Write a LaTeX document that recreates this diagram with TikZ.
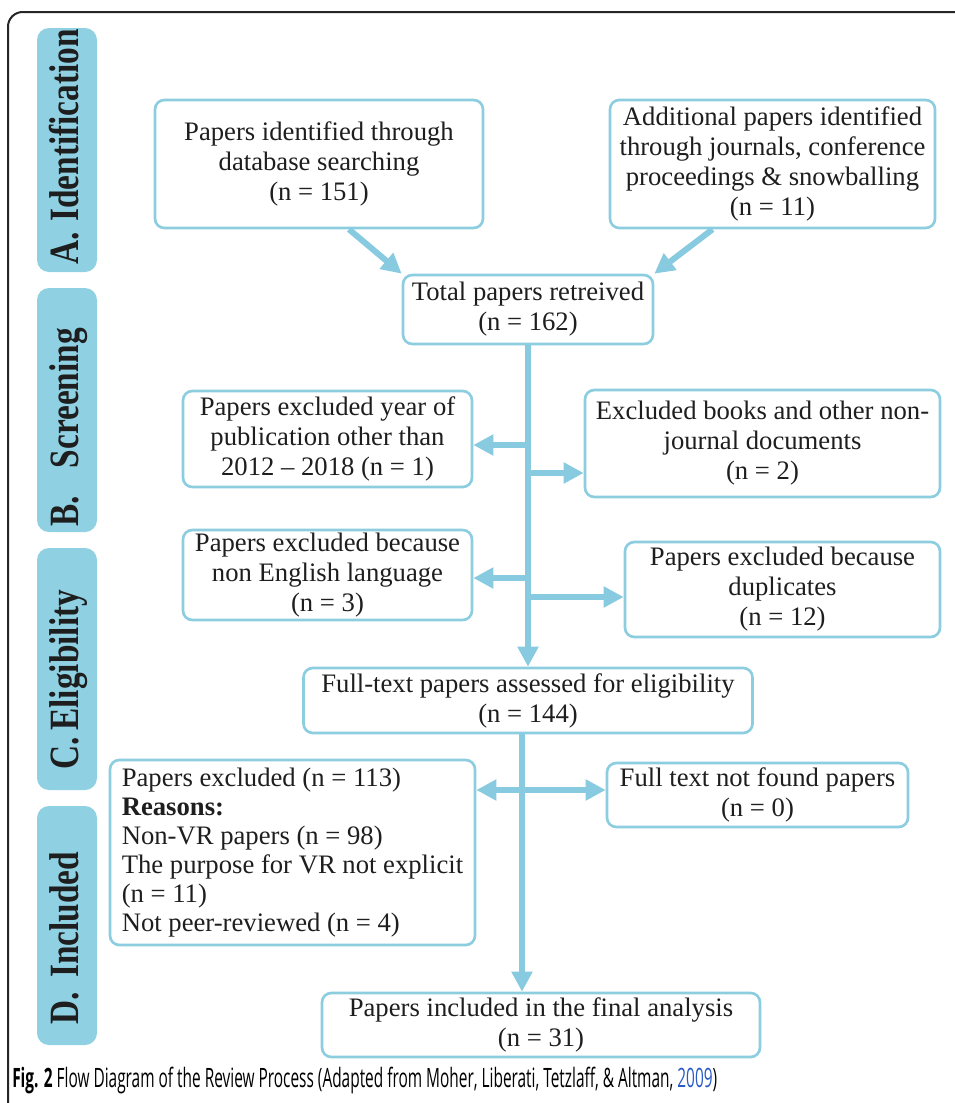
\documentclass[tikz,border=0pt]{standalone}
\usepackage{fontspec}
\usepackage{graphicx}
\setmainfont{Liberation Serif}
\newfontfamily\capfont{Open Sans}
\usetikzlibrary{arrows.meta,calc}
\definecolor{bcol}{RGB}{140,205,224}
\definecolor{lcol}{RGB}{143,208,227}
\definecolor{acol}{RGB}{136,203,224}
\definecolor{tcol}{RGB}{30,30,30}
\definecolor{linkblue}{RGB}{40,90,200}
\begin{document}
\begin{tikzpicture}[x=0.75pt,y=-0.75pt,
 pbox/.style={draw=bcol, line width=2pt, rounded corners=7pt, fill=white, align=center, inner sep=0pt, text=tcol, font=\fontsize{20}{22.5}\selectfont},
 flow/.style={draw=acol, line width=4.5pt, -{Triangle[length=15pt,width=15pt]}},
 flowboth/.style={draw=acol, line width=4.5pt, {Triangle[length=15pt,width=15pt]}-{Triangle[length=15pt,width=15pt]}},
 labfill/.style={fill=lcol, rounded corners=9pt},
 labtext/.style={rotate=90, anchor=base west, inner sep=0pt, text=tcol, font=\fontsize{25}{30}\selectfont\bfseries}]

\useasboundingbox (0,0) rectangle (955,1103);
\fill[white] (0,0) rectangle (955,1103);
\draw[line width=1.5pt, draw=black!85, rounded corners=11pt] (8,1130) -- (8,12) -- (980,12);

% stage labels
\fill[labfill] (37,28) rectangle (97,272);
\node[labtext] (la) at (78,265) {\scalebox{1}[1.25]{A.\hspace{8pt}Identification}};
\fill[labfill] (37,288) rectangle (97,532);
\node[labtext] (lb) at (78,527) {\scalebox{1}[1.25]{B.\hspace{21pt}Screening}};
\fill[labfill] (37,548) rectangle (97,790);
\node[labtext] (lc) at (78,770) {\scalebox{1}[1.25]{C.\hspace{5pt}Eligibility}};
\fill[labfill] (37,806) rectangle (97,1045);
\node[labtext] (ld) at (78,1025) {\scalebox{1}[1.25]{D.\hspace{11pt}Included}};

% boxes
\node[pbox, minimum width=246pt, minimum height=96pt] (b1) at (319,164) {Papers identified through\\database searching\\(n = 151)};
\node[pbox, minimum width=243.75pt, minimum height=96pt] (b2) at (772.5,164) {Additional papers identified\\through journals, conference\\proceedings \& snowballing\\(n = 11)};
\node[pbox, minimum width=187.5pt, minimum height=51.75pt] (b3) at (528,309.5) {Total papers retreived\\(n = 162)};
\node[pbox, minimum width=216.75pt, minimum height=72pt] (b4) at (327.5,439) {Papers excluded year of\\publication other than\\2012 – 2018 (n = 1)};
\node[pbox, minimum width=266.25pt, minimum height=80.25pt] (b5) at (762.5,443.5) {Excluded books and other non-\\journal documents\\(n = 2)};
\node[pbox, minimum width=216.75pt, minimum height=67.5pt] (b6) at (327.5,575) {Papers excluded because\\non English language\\(n = 3)};
\node[pbox, minimum width=236.25pt, minimum height=71.25pt] (b7) at (782.5,589.5) {Papers excluded because\\duplicates\\(n = 12)};
\node[pbox, minimum width=336.75pt, minimum height=48.75pt] (b8) at (528,700.5) {Full-text papers assessed for eligibility\\(n = 144)};
\node[pbox, align=left, minimum width=273.75pt, minimum height=138.75pt, font=\fontsize{20}{21.75}\selectfont] (b9) at (292.5,852.5) {Papers excluded (n = 113)\\\textbf{Reasons:}\\Non-VR papers (n = 98)\\The purpose for VR not explicit\\(n = 11)\\Not peer-reviewed (n = 4)};
\node[pbox, minimum width=225.75pt, minimum height=48pt] (b10) at (757.5,795) {Full text not found papers\\(n = 0)};
\node[pbox, minimum width=328.5pt, minimum height=48pt] (b11) at (541,1025) {Papers included in the final analysis\\(n = 31)};

% connectors
\draw[flow] ($(b1.south)+(30,0)$) -- (b3.north west);
\draw[flow] ($(b2.south)+(-60,0)$) -- (b3.north east);
\draw[flow] (b3.south) -- (b8.north);
\coordinate (j1) at (528,445);
\coordinate (j2) at (528,473);
\coordinate (j3) at (528,578);
\coordinate (j4) at (528,597);
\draw[flow] (j1) -- (j1 -| b4.east);
\draw[flow] (j2) -- (j2 -| b5.west);
\draw[flow] (j3) -- (j3 -| b6.east);
\draw[flow] (j4) -- (j4 -| b7.west);
\coordinate (c1) at ($(b8.south)+(-6,0)$);
\draw[flow] (c1) -- (c1 |- b11.north);
\coordinate (j5) at (522,790);
\draw[flowboth] (j5 -| b9.east) -- (j5 -| b10.west);

% caption
\node[anchor=base west, inner sep=0pt, font=\capfont\fontsize{20}{22}\selectfont] (cap) at (12,1087)
 {\resizebox{528.75pt}{\height}{\textbf{Fig. 2} Flow Diagram of the Review Process (Adapted from Moher, Liberati, Tetzlaff, \& Altman, \textcolor{linkblue}{2009})}};
\end{tikzpicture}
\end{document}
